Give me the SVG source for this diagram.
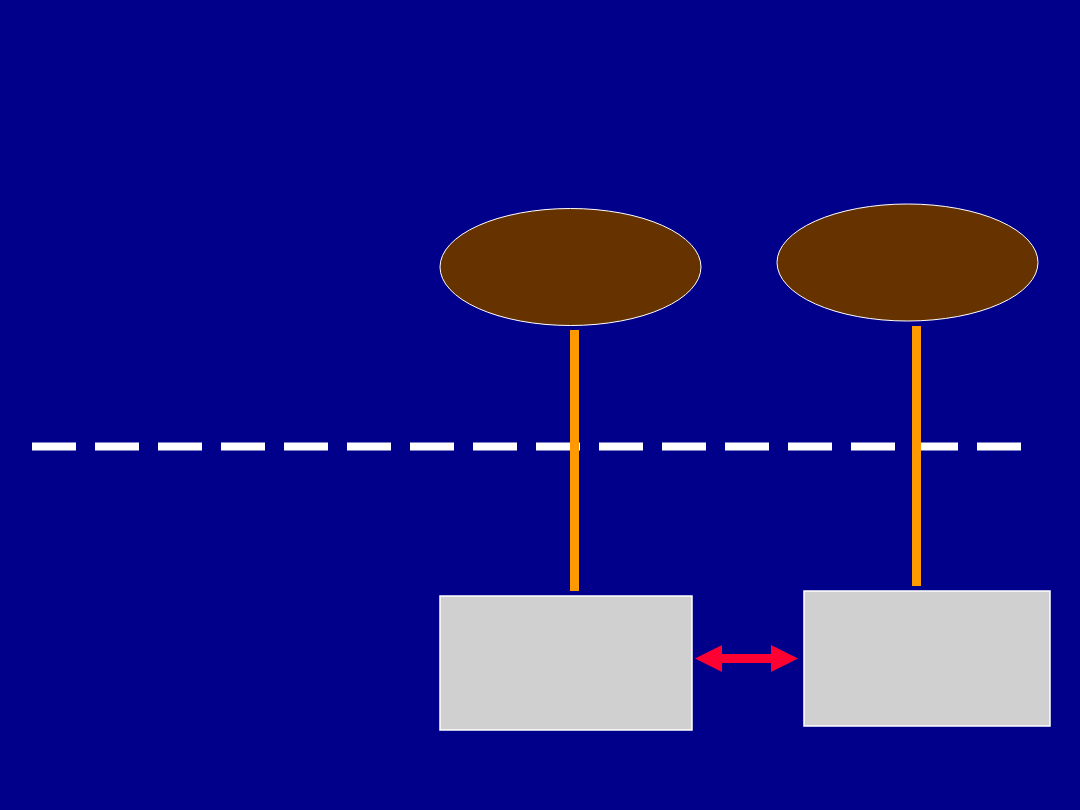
<svg xmlns="http://www.w3.org/2000/svg" width="1080" height="810" viewBox="0 0 1080 810">
<style>
.cloud{fill:#663300;stroke:#ffffff;stroke-width:1}
.box{fill:#d0d0d0;stroke:#ffffff;stroke-width:1.5}
.pole{stroke:#ff9900;stroke-width:9;fill:none}
.dash{stroke:#ffffff;stroke-width:8;stroke-dasharray:44 19;fill:none}
.arrow{fill:#ff0033}
</style>
<rect x="0" y="0" width="1080" height="810" fill="#00008b"/>
<line class="dash" x1="32" y1="446.5" x2="1021" y2="446.5"/>
<g id="node-ellipse-1"><ellipse class="cloud" cx="570.5" cy="267" rx="130.5" ry="58.5"/></g>
<g id="node-ellipse-2"><ellipse class="cloud" cx="907.5" cy="262.5" rx="130.5" ry="58.5"/></g>
<g id="node-box-1"><rect class="box" x="440" y="596" width="252" height="134"/></g>
<g id="node-box-2"><rect class="box" x="804" y="591" width="246" height="135"/></g>
<g id="connectors">
<line class="pole" x1="574.5" y1="330" x2="574.5" y2="591"/>
<line class="pole" x1="916.5" y1="326" x2="916.5" y2="586"/>
<polygon class="arrow" points="695,658.5 722,645 722,654 771,654 771,645 798,658.5 771,672 771,663 722,663 722,672"/>
</g>
</svg>
